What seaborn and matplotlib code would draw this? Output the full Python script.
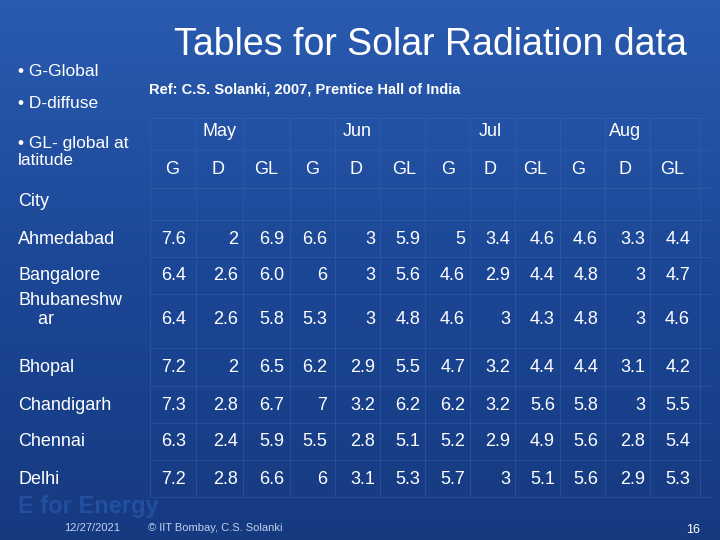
import numpy as np
import matplotlib
matplotlib.use("Agg")
import matplotlib.pyplot as plt
import seaborn as sns
from matplotlib.colors import LinearSegmentedColormap

sns.set_theme(style="white")
plt.rcParams['font.family'] = ['Liberation Sans', 'DejaVu Sans']

months = ["May", "Jun", "Jul", "Aug"]
sub = ["G", "D", "GL"]
cities = ["Ahmedabad", "Bangalore", "Bhubaneshw\n    ar", "Bhopal", "Chandigarh", "Chennai", "Delhi"]
values = [
    ["7.6", "2", "6.9", "6.6", "3", "5.9", "5", "3.4", "4.6", "4.6", "3.3", "4.4"],
    ["6.4", "2.6", "6.0", "6", "3", "5.6", "4.6", "2.9", "4.4", "4.8", "3", "4.7"],
    ["6.4", "2.6", "5.8", "5.3", "3", "4.8", "4.6", "3", "4.3", "4.8", "3", "4.6"],
    ["7.2", "2", "6.5", "6.2", "2.9", "5.5", "4.7", "3.2", "4.4", "4.4", "3.1", "4.2"],
    ["7.3", "2.8", "6.7", "7", "3.2", "6.2", "6.2", "3.2", "5.6", "5.8", "3", "5.5"],
    ["6.3", "2.4", "5.9", "5.5", "2.8", "5.1", "5.2", "2.9", "4.9", "5.6", "2.8", "5.4"],
    ["7.2", "2.8", "6.6", "6", "3.1", "5.3", "5.7", "3", "5.1", "5.6", "2.9", "5.3"],
]

fig = plt.figure(figsize=(7.2, 5.4), dpi=100)
ax = fig.add_axes([0, 0, 1, 1])
ax.set_xlim(0, 720); ax.set_ylim(540, 0); ax.axis("off")
grad = np.linspace(0, 1, 256).reshape(-1, 1)
cm = LinearSegmentedColormap.from_list("bg", ["#2a5bb0", "#1c4796", "#163a80"])
ax.imshow(grad, cmap=cm, extent=[0, 720, 540, 0], aspect="auto", zorder=0)

W = "white"
ax.text(430, 45, "Tables for Solar Radiation data", color=W, fontsize=27, ha="center", va="center")
ax.text(305, 89, "Ref: C.S. Solanki, 2007, Prentice Hall of India", color=W, fontsize=10.5, ha="center", va="center", weight="bold")
ax.text(18, 72, "• G-Global", color=W, fontsize=12.5, va="center")
ax.text(18, 104, "• D-diffuse", color=W, fontsize=12.5, va="center")
ax.text(18, 152, "• GL- global at\nlatitude", color=W, fontsize=12.5, va="center", linespacing=1.1)
ax.text(18, 202, "City", color=W, fontsize=13, va="center")

month_x = [220, 357, 490, 625]
head_x = [172, 218, 266, 312, 356, 404, 448, 490, 535, 578, 625, 672]
val_x = [186, 238, 284, 327, 375, 420, 465, 510, 555, 598, 645, 690]
row_y = [239, 275, 320, 368, 405, 442, 479]

for m, x in zip(months, month_x):
    ax.text(x, 132, m, color=W, fontsize=13, ha="center", va="center")
for i, x in enumerate(head_x):
    ax.text(x, 170, sub[i % 3], color=W, fontsize=13, ha="center", va="center")
for r, (c, y) in enumerate(zip(cities, row_y)):
    ax.text(18, y if "\n" not in c else y - 10, c, color=W, fontsize=13, va="center", linespacing=1.1, zorder=3)
    for v, x in zip(values[r], val_x):
        ax.text(x, y, v, color=W, fontsize=13, ha="right", va="center", zorder=3)

lc = "#3c66b0"
for y in [118, 150, 188, 220, 257, 294, 348, 386, 423, 460, 497]:
    ax.plot([150, 710], [y, y], color=lc, lw=0.5, alpha=0.6, zorder=1)
for x in [150, 196, 243, 290, 335, 380, 425, 470, 515, 560, 605, 650, 700]:
    ax.plot([x, x], [118, 497], color=lc, lw=0.5, alpha=0.6, zorder=1)

ax.text(18, 506, "E for Energy", color="#22509f", fontsize=17, weight="bold", va="center", zorder=0.5)
ax.text(92, 528, "12/27/2021", color="#c0d0f0", fontsize=8, ha="center", va="center")
ax.text(215, 528, "© IIT Bombay, C.S. Solanki", color="#c0d0f0", fontsize=8, ha="center", va="center")
ax.text(700, 530, "16", color=W, fontsize=9, ha="right", va="center")
fig.savefig("out.png", dpi=100)
